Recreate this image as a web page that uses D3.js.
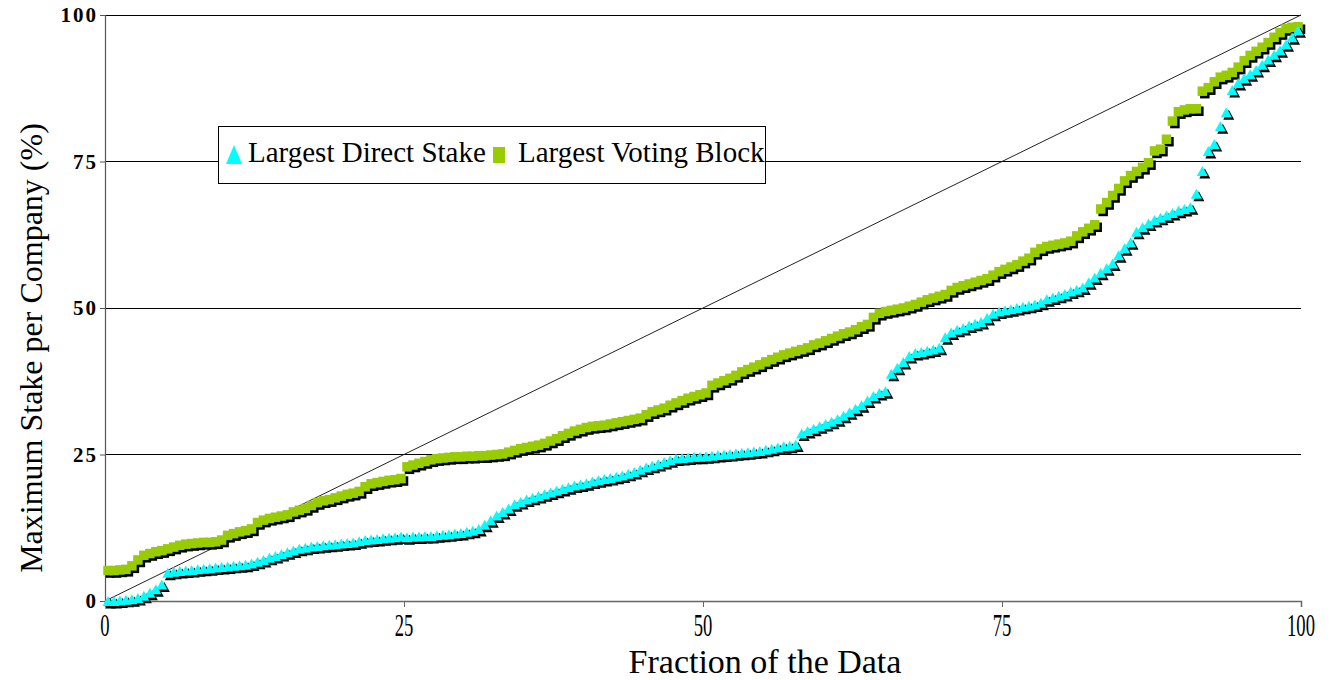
<!DOCTYPE html>
<html>
<head>
<meta charset="utf-8">
<script src="https://cdn.jsdelivr.net/npm/d3@7/dist/d3.min.js"></script>
<style>
  html, body { margin: 0; padding: 0; background: #fff; }
  svg { display: block; }
  text { font-family: "Liberation Serif", "Times New Roman", serif; fill: #000; }
</style>
</head>
<body>
<svg id="chart" width="1332" height="680"></svg>
<script>
// Largest direct stake per company (%), companies sorted ascending
const directStake = [
  0.0, 0.0, 0.1, 0.2, 0.3, 0.5, 0.9, 1.4, 2.0, 2.8,
  4.8, 5.0, 5.1, 5.2, 5.3, 5.4, 5.5, 5.6, 5.7, 5.8,
  5.9, 6.0, 6.1, 6.2, 6.4, 6.7, 7.0, 7.4, 7.7, 8.0,
  8.3, 8.6, 8.9, 9.1, 9.3, 9.4, 9.5, 9.6, 9.7, 9.8,
  9.9, 10.0, 10.2, 10.4, 10.5, 10.6, 10.7, 10.8, 10.9, 11.0,
  10.9, 11.0, 11.0, 11.1, 11.1, 11.2, 11.3, 11.4, 11.5, 11.6,
  11.8, 12.0, 12.3, 13.0, 13.8, 14.6, 15.2, 15.8, 16.5, 16.9,
  17.3, 17.6, 17.9, 18.2, 18.5, 18.8, 19.1, 19.4, 19.7, 19.9,
  20.1, 20.4, 20.6, 20.8, 21.0, 21.2, 21.4, 21.7, 22.0, 22.4,
  22.8, 23.1, 23.4, 23.7, 24.0, 24.3, 24.4, 24.5, 24.6, 24.6,
  24.7, 24.8, 24.9, 25.0, 25.1, 25.2, 25.3, 25.4, 25.5, 25.6,
  25.8, 26.0, 26.2, 26.4, 26.5, 26.7, 28.6, 29.0, 29.4, 29.8,
  30.2, 30.6, 31.0, 31.6, 32.2, 32.8, 33.4, 34.2, 35.0, 35.5,
  35.8, 38.8, 39.8, 40.8, 41.8, 42.3, 42.5, 42.7, 42.9, 43.2,
  45.0, 45.8, 46.3, 46.6, 47.0, 47.3, 47.6, 48.3, 49.0, 49.4,
  49.6, 49.8, 50.0, 50.2, 50.4, 50.6, 50.9, 51.5, 51.8, 52.1,
  52.4, 52.8, 53.1, 53.5, 54.4, 55.2, 56.0, 56.8, 57.6, 59.0,
  60.2, 61.2, 63.0, 63.8, 64.4, 65.0, 65.4, 65.8, 66.2, 66.6,
  66.9, 67.2, 69.5, 73.4, 76.8, 78.0, 81.0, 83.4, 87.2, 88.4,
  89.2, 89.9, 90.6, 91.5, 92.4, 93.2, 94.0, 95.0, 96.2, 97.4
];

// Largest voting block per company (%), companies sorted ascending
const votingBlock = [
  5.2, 5.2, 5.3, 5.4, 6.0, 7.0, 7.8, 8.1, 8.4, 8.6,
  8.9, 9.2, 9.5, 9.7, 9.8, 9.9, 10.0, 10.0, 10.1, 10.4,
  11.2, 11.5, 11.8, 12.0, 12.3, 13.4, 13.8, 14.1, 14.3, 14.5,
  14.7, 15.2, 15.5, 15.8, 16.3, 16.8, 17.1, 17.3, 17.6, 17.9,
  18.2, 18.4, 18.7, 19.5, 20.0, 20.2, 20.4, 20.6, 20.7, 20.9,
  22.9, 23.2, 23.5, 23.8, 24.1, 24.3, 24.4, 24.5, 24.6, 24.6,
  24.7, 24.7, 24.8, 24.8, 24.9, 25.0, 25.1, 25.4, 25.7, 26.0,
  26.2, 26.4, 26.6, 26.9, 27.3, 27.7, 28.2, 28.6, 29.0, 29.3,
  29.6, 29.8, 29.9, 30.0, 30.2, 30.4, 30.6, 30.8, 31.0, 31.2,
  31.8, 32.3, 32.6, 32.9, 33.4, 33.8, 34.2, 34.6, 34.9, 35.2,
  35.5, 36.8, 37.2, 37.6, 38.0, 38.5, 39.1, 39.5, 39.9, 40.3,
  40.8, 41.2, 41.6, 42.0, 42.3, 42.6, 42.9, 43.2, 43.7, 44.0,
  44.4, 44.8, 45.2, 45.6, 45.9, 46.3, 46.8, 47.2, 48.4, 49.1,
  49.4, 49.6, 49.8, 50.0, 50.3, 50.6, 51.0, 51.4, 51.7, 52.0,
  52.3, 53.0, 53.5, 53.8, 54.1, 54.4, 54.7, 55.0, 55.6, 56.2,
  56.6, 57.0, 57.4, 58.0, 58.5, 59.5, 60.1, 60.5, 60.7, 60.9,
  61.1, 61.4, 62.3, 63.0, 63.6, 64.2, 66.9, 68.0, 69.2, 70.4,
  71.7, 72.6, 73.3, 74.0, 74.8, 76.8, 77.1, 78.8, 81.9, 83.5,
  83.8, 84.0, 84.0, 87.0, 87.6, 88.6, 89.4, 89.7, 90.2, 91.1,
  92.2, 93.1, 93.8, 94.5, 95.3, 96.2, 97.0, 97.7, 97.9, 98.0
];

// 45-degree reference line (equal distribution)
const diagonalX = [0, 100];
const diagonalY = [0, 100];

const xTicks = [0, 25, 50, 75, 100];
const yTicks = [0, 25, 50, 75, 100];
const seriesNames = ["Largest Direct Stake", "Largest Voting Block"];
const xTitle = "Fraction of the Data";
const yTitle = "Maximum Stake per Company (%)";

const svg = d3.select("#chart");
const plot = { left: 105, right: 1301, top: 15, bottom: 601 };

const x = d3.scaleLinear().domain([0, 100]).range([plot.left, plot.right]);
const y = d3.scaleLinear().domain([0, 100]).range([plot.bottom, plot.top]);

// share of the data at which each company sits
const frac = (i, n) => (i + 0.5) / n * 100;

// horizontal gridlines
svg.append("g").selectAll("line")
  .data(yTicks.filter(d => d > 0))
  .join("line")
  .attr("x1", plot.left).attr("x2", plot.right)
  .attr("y1", d => y(d)).attr("y2", d => y(d))
  .attr("stroke", "#000").attr("stroke-width", 1)
  .attr("shape-rendering", "crispEdges");

// diagonal
svg.append("path")
  .datum(diagonalX.map((d, i) => [d, diagonalY[i]]))
  .attr("d", d3.line().x(d => x(d[0])).y(d => y(d[1])))
  .attr("fill", "none").attr("stroke", "#222").attr("stroke-width", 1);

// x axis
const xAxis = svg.append("g")
  .attr("transform", `translate(0,${plot.bottom})`)
  .call(d3.axisBottom(x).tickValues(xTicks).tickSize(6).tickFormat(""));
xAxis.select(".domain").attr("stroke", "#666").attr("stroke-width", 1.5);
xAxis.selectAll(".tick line").attr("stroke", "#666");

svg.append("g").selectAll("text")
  .data(xTicks)
  .join("text")
  .attr("transform", d => `translate(${x(d)},636) scale(0.6,1)`)
  .attr("text-anchor", "middle")
  .style("font-size", "31px")
  .text(d => d);

// y axis
const yAxis = svg.append("g")
  .attr("transform", `translate(${plot.left},0)`)
  .call(d3.axisLeft(y).tickValues(yTicks).tickSize(5).tickFormat(""));
yAxis.select(".domain").attr("stroke", "#555").attr("stroke-width", 1.2);
yAxis.selectAll(".tick line").attr("stroke", "#555");

svg.append("g").selectAll("text")
  .data(yTicks)
  .join("text")
  .attr("x", 98)
  .attr("y", d => y(d) + 7)
  .attr("text-anchor", "end")
  .style("font-size", "21px")
  .style("font-weight", "bold")
  .style("letter-spacing", "2px")
  .text(d => d);

// axis titles
svg.append("text")
  .attr("x", 765).attr("y", 673)
  .attr("text-anchor", "middle")
  .style("font-size", "34px")
  .text(xTitle);

svg.append("text")
  .attr("transform", "translate(42,348) rotate(-90)")
  .attr("text-anchor", "middle")
  .style("font-size", "32px")
  .text(yTitle);

// marker shapes
const triPath = (cx, cy, w, h) =>
  `M${cx},${cy - h / 2}L${cx + w / 2},${cy + h / 2}L${cx - w / 2},${cy + h / 2}Z`;
const SHADOW = 2.5;

const directPts = directStake.map((v, i) => [x(frac(i, directStake.length)), y(v)]);
const votingPts = votingBlock.map((v, i) => [x(frac(i, votingBlock.length)), y(v)]);

// voting block squares: shadows first, then fill
const gV = svg.append("g");
gV.selectAll("rect.sh").data(votingPts).join("rect")
  .attr("class", "sh")
  .attr("x", d => d[0] - 4.75 + SHADOW).attr("y", d => d[1] - 4.75 + SHADOW)
  .attr("width", 9.5).attr("height", 9.5).attr("fill", "#000");
gV.selectAll("rect.mk").data(votingPts).join("rect")
  .attr("class", "mk")
  .attr("x", d => d[0] - 4.75).attr("y", d => d[1] - 4.75)
  .attr("width", 9.5).attr("height", 9.5).attr("fill", "#99cc00");

// direct stake triangles
const gD = svg.append("g");
gD.selectAll("path.sh").data(directPts).join("path")
  .attr("class", "sh")
  .attr("d", d => triPath(d[0] + SHADOW, d[1] + SHADOW, 11, 10))
  .attr("fill", "#000");
gD.selectAll("path.mk").data(directPts).join("path")
  .attr("class", "mk")
  .attr("d", d => triPath(d[0], d[1], 11, 10))
  .attr("fill", "#00ffff");

// legend
const lg = svg.append("g");
lg.append("rect")
  .attr("x", 218).attr("y", 126).attr("width", 547).attr("height", 57)
  .attr("fill", "#fff").attr("stroke", "#000").attr("stroke-width", 1)
  .attr("shape-rendering", "crispEdges");
lg.append("path")
  .attr("d", triPath(234, 154.5, 16, 19))
  .attr("fill", "#00ffff");
lg.append("text")
  .attr("x", 248).attr("y", 162)
  .style("font-size", "29px")
  .text(seriesNames[0]);
lg.append("rect")
  .attr("x", 493).attr("y", 147).attr("width", 12).attr("height", 16)
  .attr("fill", "#99cc00");
lg.append("text")
  .attr("x", 518).attr("y", 162)
  .style("font-size", "29px")
  .text(seriesNames[1]);
</script>
</body>
</html>
